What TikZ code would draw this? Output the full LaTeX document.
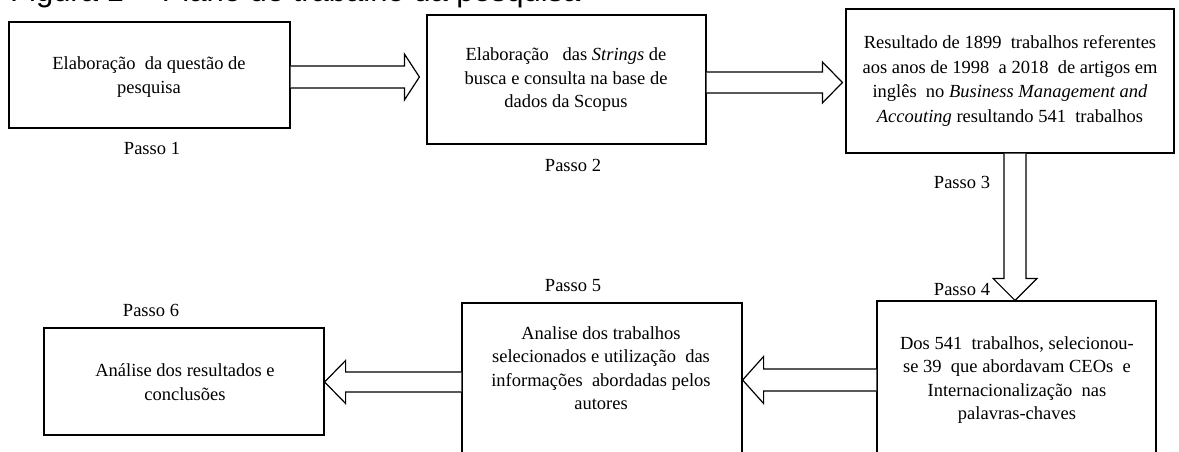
\documentclass[tikz,border=0pt]{standalone}
\usepackage{fontspec}
\setmainfont{Liberation Serif}
\newfontfamily\titlefont{Liberation Sans}
\usetikzlibrary{calc}
\begin{document}
\begin{tikzpicture}[x=1pt,y=-1pt,
  box/.style={draw=black, line width=1.2pt, rectangle, inner sep=0pt},
  txt/.style={align=center, font=\fontsize{18.5}{23.5}\selectfont, inner sep=0pt},
  lbl/.style={font=\fontsize{18.5}{22}\selectfont, inner sep=0pt},
  barrow/.style={draw=black, line width=1.2pt, fill=white, line join=miter}]
\useasboundingbox (0,0) rectangle (1179,452);
% title (cropped at the top of the page)
\node[font=\titlefont\fontsize{31}{31}\selectfont, anchor=base west, inner sep=0pt] (title) at (10,2) {Figura 1 -- Plano de trabalho da pesquisa};
% boxes
\node[box, minimum width=281pt, minimum height=106pt] (b1) at (149.5,75) {};
\node[box, minimum width=279pt, minimum height=129pt] (b2) at (566.5,79.5) {};
\node[box, minimum width=328pt, minimum height=144pt] (b3) at (1010,81) {};
\node[box, minimum width=279pt, minimum height=178pt] (b4) at (1016.5,390) {};
\node[box, minimum width=280pt, minimum height=177pt] (b5) at (602,391.5) {};
\node[box, minimum width=280pt, minimum height=107pt] (b6) at (184,381.5) {};
% texts
\node[txt] (t1) at (149,77) {Elaboração\ \ da questão de\\pesquisa};
\node[txt] (t2) at (566,80) {Elaboração\ \ \ das \textit{Strings} de\\busca e consulta na base de\\dados da Scopus};
\node[txt, font=\fontsize{18.5}{24.5}\selectfont] (t3) at (1010,81) {Resultado de 1899\ \ trabalhos referentes\\aos anos de 1998\ \ a 2018\ \ de artigos em\\inglês\ \ no \textit{Business Management and}\\\textit{Accouting} resultando 541\ \ trabalhos};
\node[txt] (t4) at (1017,380) {Dos 541\ \ trabalhos, selecionou-\\se 39\ \ que abordavam CEOs\ \ e\\Internacionalização\ \ nas\\palavras-chaves};
\node[txt] (t5) at (601,368) {Analise dos trabalhos\\selecionados e utilização\ \ das\\informações\ \ abordadas pelos\\autores};
\node[txt] (t6) at (185,382) {Análise dos resultados e\\conclusões};
% step labels
\node[lbl] (p1) at (152,148) {Passo 1};
\node[lbl] (p2) at (573,165) {Passo 2};
\node[lbl] (p3) at (962,182) {Passo 3};
\node[lbl] (p4) at (962,290) {Passo 4};
\node[lbl] (p5) at (573,286) {Passo 5};
\node[lbl] (p6) at (151,310) {Passo 6};
% block arrows
% 1: b1 -> b2
\coordinate (a1s) at ($(b1.east)+(0,2)$);
\coordinate (a1t) at ($(b2.west)+(-7,-2.5)$);
\draw[barrow] ($(a1s)+(0,-11)$) -- ($(a1t)+(-15,-11)$) -- ($(a1t)+(-15,-23)$) -- (a1t)
  -- ($(a1t)+(-15,23)$) -- ($(a1t)+(-15,11)$) -- ($(a1s)+(0,11)$);
% 2: b2 -> b3
\coordinate (a2s) at ($(b2.east)+(0,3)$);
\coordinate (a2t) at ($(b3.west)+(-3,1.5)$);
\draw[barrow] ($(a2s)+(0,-10.5)$) -- ($(a2t)+(-20,-10.5)$) -- ($(a2t)+(-20,-20.5)$) -- (a2t)
  -- ($(a2t)+(-20,20.5)$) -- ($(a2t)+(-20,10.5)$) -- ($(a2s)+(0,10.5)$);
% 3: b3 -> b4
\coordinate (a3s) at ($(b3.south)+(5,0)$);
\coordinate (a3t) at ($(b4.north)+(-1.5,0)$);
\draw[barrow] ($(a3s)+(-11,0)$) -- ($(a3t)+(-11,-22)$) -- ($(a3t)+(-22,-22)$) -- (a3t)
  -- ($(a3t)+(22,-22)$) -- ($(a3t)+(11,-22)$) -- ($(a3s)+(11,0)$);
% 4: b4 -> b5
\coordinate (a4s) at ($(b4.west)+(0,-10)$);
\coordinate (a4t) at ($(b5.east)+(0,-11.5)$);
\draw[barrow] ($(a4s)+(0,-11)$) -- ($(a4t)+(21,-11)$) -- ($(a4t)+(21,-23.5)$) -- (a4t)
  -- ($(a4t)+(21,23.5)$) -- ($(a4t)+(21,11)$) -- ($(a4s)+(0,11)$);
% 5: b5 -> b6
\coordinate (a5s) at ($(b5.west)+(0,-9.5)$);
\coordinate (a5t) at ($(b6.east)+(0,0.5)$);
\draw[barrow] ($(a5s)+(0,-10)$) -- ($(a5t)+(21,-10)$) -- ($(a5t)+(21,-21.5)$) -- (a5t)
  -- ($(a5t)+(21,21.5)$) -- ($(a5t)+(21,10)$) -- ($(a5s)+(0,10)$);
\end{tikzpicture}
\end{document}
